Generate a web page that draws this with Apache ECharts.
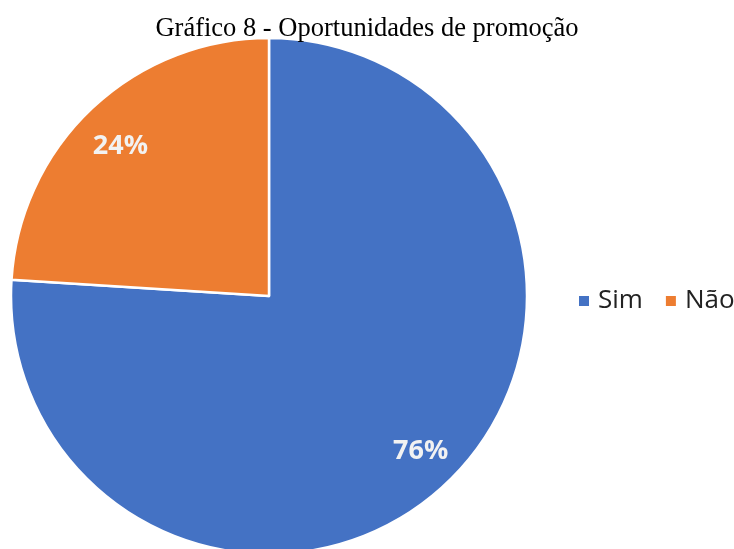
<!DOCTYPE html>
<html>
<head>
<meta charset="utf-8">
<script src="https://cdn.jsdelivr.net/npm/echarts@6/dist/echarts.min.js"></script>
<style>html,body{margin:0;padding:0;background:#fff}#c{width:734px;height:549px}</style>
</head>
<body>
<div id="c"></div>
<script>
const titleText = 'Gráfico 8 - Oportunidades de promoção';
const categories = ['Sim', 'Não'];
const values = [76, 24];
const colors = ['#4472C4', '#ED7D31'];
const labelOffsets = [[1, -5], [2, 11]];

const data = categories.map((n, i) => ({ name: n, value: values[i], itemStyle: { color: colors[i] } }));
const chart = echarts.init(document.getElementById('c'), null, { renderer: 'canvas' });
chart.setOption({
  animation: false,
  title: {
    text: titleText, left: 'center', top: 16, padding: 0,
    textStyle: { fontFamily: 'Liberation Serif', fontWeight: 'normal', fontSize: 26.5, color: '#000' }
  },
  legend: {
    data: categories, left: 577, top: 288, width: 170, padding: 0,
    itemWidth: 12, itemHeight: 12, itemGap: 21,
    icon: 'rect',
    textStyle: { fontFamily: 'Open Sans', fontSize: 26, color: '#222', padding: [0, 0, 0, 3] }
  },
  series: [
    {
      type: 'pie', center: [269, 296], radius: [0, 258], startAngle: 90, clockwise: true,
      silent: true,
      itemStyle: { borderColor: '#fff', borderWidth: 2.5 },
      label: { show: false }, labelLine: { show: false },
      data: data
    },
    {
      type: 'pie', center: [269, 296], radius: [176, 258], startAngle: 90, clockwise: true,
      silent: true,
      itemStyle: { color: 'transparent', borderWidth: 0 },
      label: {
        show: true, position: 'inside', formatter: '{d}%',
        fontFamily: 'Open Sans', fontWeight: 'bold', fontSize: 27, color: '#f2f2f2'
      },
      labelLine: { show: false },
      data: categories.map((n, i) => ({ name: n, value: values[i], itemStyle: { color: 'transparent' }, label: { offset: labelOffsets[i] } }))
    }
  ]
});
</script>
</body>
</html>
